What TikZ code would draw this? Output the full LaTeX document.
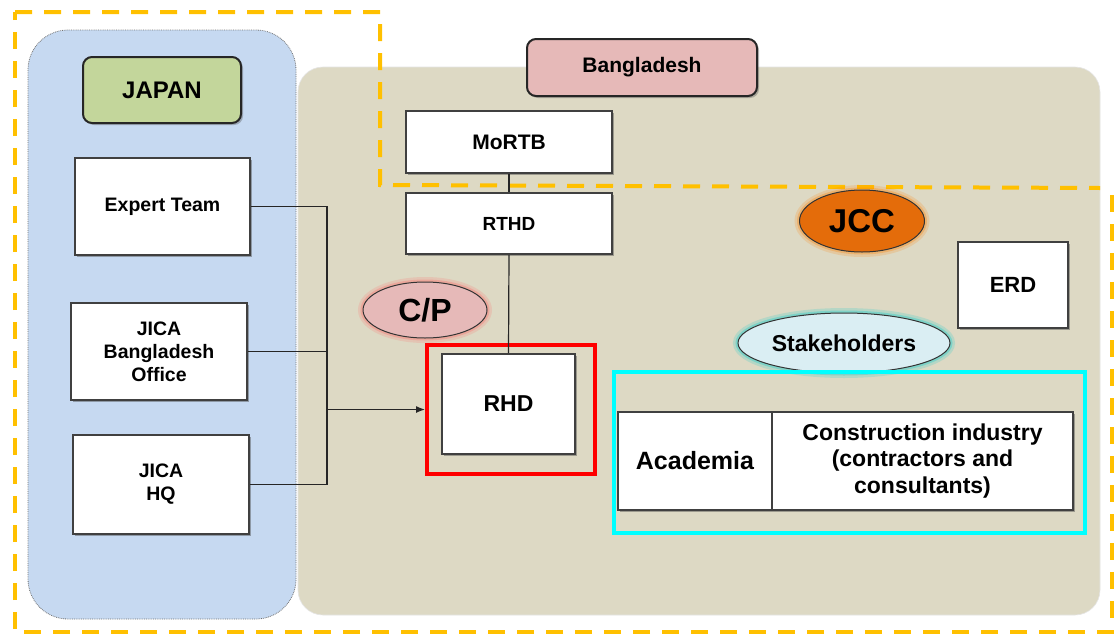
\documentclass[tikz,border=0pt]{standalone}
\usepackage{fontspec}
\setmainfont{Liberation Sans}
\usetikzlibrary{shadows,arrows.meta,calc,shapes.geometric}
\definecolor{panelblue}{HTML}{C6D9F1}
\definecolor{panelbeige}{HTML}{DDD9C4}
\definecolor{jpgreen}{HTML}{C3D69B}
\definecolor{bdpink}{HTML}{E6B9B8}
\definecolor{jccorange}{HTML}{E46C0A}
\definecolor{stkcyan}{HTML}{DAEEF3}
\definecolor{dashorange}{HTML}{FFC000}
\definecolor{boxline}{HTML}{404040}
\definecolor{brightcyan}{HTML}{00FFFF}
\definecolor{brightred}{HTML}{FF0000}
\newcommand\fsz[2]{\fontsize{#1}{#2}\selectfont\bfseries}
\begin{document}
\begin{tikzpicture}[x=1pt,y=-1pt,
  wbox/.style={draw=boxline, line width=2pt, fill=white, inner sep=0pt, align=center,
    drop shadow={shadow xshift=1.5pt,shadow yshift=-1.5pt,opacity=.45,fill=black!70}},
  label box/.style={draw=black!85, line width=2pt, rounded corners=9pt, inner sep=0pt, align=center,
    drop shadow={shadow xshift=2pt,shadow yshift=-2pt,opacity=.35,fill=black!70}},
  oval/.style={ellipse, draw=black!80, line width=1pt, inner sep=0pt},
  glow/.style={preaction={draw=#1, line width=10pt, opacity=.18},
               preaction={draw=#1, line width=5pt, opacity=.3}},
  conn/.style={draw=black!85, line width=1.2pt},
  hl/.style={draw=#1, line width=4pt, fill=none, inner sep=0pt}
]
\useasboundingbox (0,0) rectangle (1117,635);
\fill[white] (0,0) rectangle (1117,635);

% panels
\draw[fill=panelblue, draw=black!55, densely dotted, line width=0.8pt, rounded corners=40pt] (28,30) rectangle (296,619);
\draw[fill=panelbeige, draw=black!10, line width=0.6pt, rounded corners=25pt] (298,67) rectangle (1100,615);

% dashed outline
\draw[dashorange, line width=4pt, dash pattern=on 17pt off 12pt]
  (15,12) -- (380,12) -- (380,185) -- (1100,188);
\draw[dashorange, line width=4pt, dash pattern=on 17pt off 12pt]
  (1112,195) -- (1112,632) -- (15,632) -- (15,12);

% headers
\node[label box, fill=jpgreen, minimum width=158pt, minimum height=66pt, font=\fsz{24}{28}] (japan) at (162,90) {JAPAN};
\node[label box, fill=bdpink, minimum width=230pt, minimum height=57pt, font=\fsz{21}{25}] (bangladesh) at (642,67.5) {Bangladesh};

% Japan boxes
\node[wbox, minimum width=175pt, minimum height=97pt, font=\fsz{19.5}{23}] (expert) at (162.5,206.5) {Expert Team};
\node[wbox, minimum width=176pt, minimum height=97pt, font=\fsz{19.5}{23}] (jbo) at (159,351.5) {JICA\\Bangladesh\\Office};
\node[wbox, minimum width=176pt, minimum height=99pt, font=\fsz{19.5}{23}] (hq) at (161,484.5) {JICA\\HQ};

% Bangladesh boxes
\node[wbox, minimum width=206pt, minimum height=62pt, font=\fsz{21}{25}] (mortb) at (509,142) {MoRTB};
\node[wbox, minimum width=206pt, minimum height=61pt, font=\fsz{19}{23}] (rthd) at (509,223.5) {RTHD};
\node[hl=brightred, minimum width=168pt, minimum height=129pt] (redbox) at (511,409.5) {};
\node[wbox, minimum width=133pt, minimum height=100pt, font=\fsz{23}{27}] (rhd) at (508.5,404) {RHD};
\node[wbox, minimum width=110pt, minimum height=86pt, font=\fsz{22}{26}] (erd) at (1013,285) {ERD};

% ovals
\node[oval, glow=red!60, fill=bdpink, minimum width=124pt, minimum height=56pt, font=\fsz{32}{36}] (cp) at (425,310) {C/P};
\node[oval, glow=orange, fill=jccorange, minimum width=125pt, minimum height=62pt, font=\fsz{33}{37}] (jcc) at (862,221) {JCC};
\node[oval, glow=brightcyan!60!teal, fill=stkcyan, minimum width=212pt, minimum height=60pt, font=\fsz{23}{27}] (stk) at (844,343) {Stakeholders};

% stakeholders group
\node[hl=brightcyan, minimum width=471pt, minimum height=161pt] (cyanbox) at (849.5,452.5) {};
\node[wbox, minimum width=154pt, minimum height=98pt, font=\fsz{25}{29}] (acad) at (695,461) {Academia};
\node[wbox, minimum width=301pt, minimum height=98pt, font=\fsz{23}{26.7}] (cons) at (922.5,461) {Construction industry\\(contractors and\\consultants)};

% connectors
\coordinate (bt) at (327,206.5);
\coordinate (bb) at (327,484.5);
\draw[conn] (expert.east) -- (bt) -- (bb) -- (hq.east);
\draw[conn] (jbo.east) -- (jbo.east -| bt);
\draw[conn, -{Latex[length=9pt,width=7pt]}] (bt |- redbox.west) -- (redbox.west);
\draw[conn] (mortb.south) -- (rthd.north);
\draw[conn] (rthd.south) -- (rhd.north);
\end{tikzpicture}
\end{document}
